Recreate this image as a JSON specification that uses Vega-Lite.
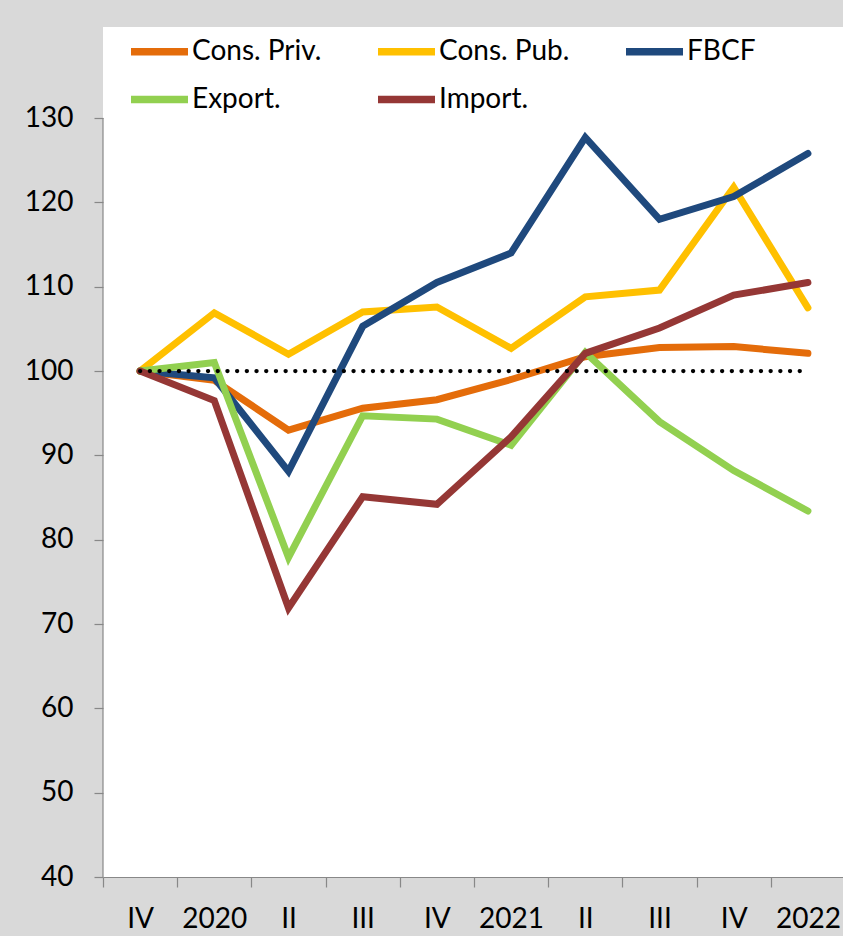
{
  "$schema": "https://vega.github.io/schema/vega-lite/v6.json",
  "width": 742,
  "height": 850,
  "autosize": "none",
  "padding": {"left": 103, "top": 27, "right": 0, "bottom": 59},
  "background": "#d9d9d9",
  "view": {"fill": "white", "stroke": null},
  "config": {"font": "Lato"},
  "datasets": {
    "series": [
      {"q": "2019-IV", "s": "Cons. Priv.", "v": 100},
      {"q": "2020-I", "s": "Cons. Priv.", "v": 98.9},
      {"q": "2020-II", "s": "Cons. Priv.", "v": 93.0},
      {"q": "2020-III", "s": "Cons. Priv.", "v": 95.6},
      {"q": "2020-IV", "s": "Cons. Priv.", "v": 96.6},
      {"q": "2021-I", "s": "Cons. Priv.", "v": 99.0},
      {"q": "2021-II", "s": "Cons. Priv.", "v": 101.7},
      {"q": "2021-III", "s": "Cons. Priv.", "v": 102.8},
      {"q": "2021-IV", "s": "Cons. Priv.", "v": 102.9},
      {"q": "2022-I", "s": "Cons. Priv.", "v": 102.1},
      {"q": "2019-IV", "s": "Cons. Pub.", "v": 100},
      {"q": "2020-I", "s": "Cons. Pub.", "v": 106.9},
      {"q": "2020-II", "s": "Cons. Pub.", "v": 102.0},
      {"q": "2020-III", "s": "Cons. Pub.", "v": 107.0},
      {"q": "2020-IV", "s": "Cons. Pub.", "v": 107.6},
      {"q": "2021-I", "s": "Cons. Pub.", "v": 102.7},
      {"q": "2021-II", "s": "Cons. Pub.", "v": 108.8},
      {"q": "2021-III", "s": "Cons. Pub.", "v": 109.6},
      {"q": "2021-IV", "s": "Cons. Pub.", "v": 121.8},
      {"q": "2022-I", "s": "Cons. Pub.", "v": 107.5},
      {"q": "2019-IV", "s": "FBCF", "v": 100},
      {"q": "2020-I", "s": "FBCF", "v": 99.2},
      {"q": "2020-II", "s": "FBCF", "v": 88.1},
      {"q": "2020-III", "s": "FBCF", "v": 105.3},
      {"q": "2020-IV", "s": "FBCF", "v": 110.5},
      {"q": "2021-I", "s": "FBCF", "v": 114.0},
      {"q": "2021-II", "s": "FBCF", "v": 127.7},
      {"q": "2021-III", "s": "FBCF", "v": 118.0},
      {"q": "2021-IV", "s": "FBCF", "v": 120.7},
      {"q": "2022-I", "s": "FBCF", "v": 125.8},
      {"q": "2019-IV", "s": "Export.", "v": 100},
      {"q": "2020-I", "s": "Export.", "v": 101.0},
      {"q": "2020-II", "s": "Export.", "v": 77.9},
      {"q": "2020-III", "s": "Export.", "v": 94.7},
      {"q": "2020-IV", "s": "Export.", "v": 94.3},
      {"q": "2021-I", "s": "Export.", "v": 91.2},
      {"q": "2021-II", "s": "Export.", "v": 102.2},
      {"q": "2021-III", "s": "Export.", "v": 94.0},
      {"q": "2021-IV", "s": "Export.", "v": 88.2},
      {"q": "2022-I", "s": "Export.", "v": 83.4},
      {"q": "2019-IV", "s": "Import.", "v": 100},
      {"q": "2020-I", "s": "Import.", "v": 96.5},
      {"q": "2020-II", "s": "Import.", "v": 71.9},
      {"q": "2020-III", "s": "Import.", "v": 85.1},
      {"q": "2020-IV", "s": "Import.", "v": 84.2},
      {"q": "2021-I", "s": "Import.", "v": 92.2},
      {"q": "2021-II", "s": "Import.", "v": 102.1},
      {"q": "2021-III", "s": "Import.", "v": 105.1},
      {"q": "2021-IV", "s": "Import.", "v": 109.0},
      {"q": "2022-I", "s": "Import.", "v": 110.5}
    ],
    "axisline": [{"q": "2019-IV", "lo": 40, "hi": 130}],
    "baseline": [{"from": "2019-IV", "to": "2022-I", "v": 100}]
  },
  "layer": [
    {
      "data": {"name": "series"},
      "mark": {"type": "line", "strokeWidth": 7, "strokeCap": "round", "strokeJoin": "miter"},
      "encoding": {
        "x": {
          "field": "q",
          "type": "ordinal",
          "scale": {
            "domain": ["2019-IV", "2020-I", "2020-II", "2020-III", "2020-IV", "2021-I", "2021-II", "2021-III", "2021-IV", "2022-I"],
            "paddingInner": 0,
            "paddingOuter": 0
          },
          "axis": {
            "title": null,
            "labelAngle": 0,
            "tickBand": "extent",
            "domainColor": "#888888",
            "domainWidth": 1.2,
            "tickColor": "#888888",
            "tickWidth": 1.2,
            "tickSize": 10,
            "labelFontSize": 28,
            "labelColor": "#000000",
            "labelPadding": 18,
            "labelExpr": "datum.value == '2020-I' ? '2020' : datum.value == '2021-I' ? '2021' : datum.value == '2022-I' ? '2022' : split(datum.value, '-')[1]"
          }
        },
        "y": {
          "field": "v",
          "type": "quantitative",
          "scale": {"domain": [40, 140.8], "nice": false, "zero": false},
          "axis": {
            "title": null,
            "values": [40, 50, 60, 70, 80, 90, 100, 110, 120, 130],
            "grid": false,
            "domain": false,
            "tickColor": "#888888",
            "tickWidth": 1.2,
            "tickSize": 9,
            "labelFontSize": 28,
            "labelColor": "#000000",
            "labelPadding": 21
          }
        },
        "color": {
          "field": "s",
          "type": "nominal",
          "scale": {
            "domain": ["Cons. Priv.", "Cons. Pub.", "FBCF", "Export.", "Import."],
            "range": ["#E46C0A", "#FFC000", "#1F497D", "#92D050", "#953735"]
          },
          "legend": {
            "title": null,
            "orient": "none",
            "legendX": 24,
            "legendY": -8,
            "direction": "horizontal",
            "columns": 3,
            "symbolType": "stroke",
            "symbolSize": 3249,
            "symbolStrokeWidth": 7.5,
            "labelFontSize": 28,
            "labelColor": "#000000",
            "labelOffset": 0,
            "columnPadding": 41,
            "rowPadding": -11,
            "padding": 0,
            "labelLimit": 300
          }
        }
      }
    },
    {
      "data": {"name": "baseline"},
      "mark": {"type": "rule", "color": "#000000", "strokeWidth": 4.3, "strokeDash": [0.1, 9.6], "strokeCap": "round"},
      "encoding": {
        "x": {"field": "from", "type": "ordinal"},
        "x2": {"field": "to"},
        "y": {"field": "v", "type": "quantitative"}
      }
    },
    {
      "data": {"name": "axisline"},
      "mark": {"type": "rule", "color": "#888888", "strokeWidth": 1.2},
      "encoding": {
        "x": {"field": "q", "type": "ordinal", "bandPosition": 0},
        "y": {"field": "lo", "type": "quantitative"},
        "y2": {"field": "hi"}
      }
    }
  ]
}
